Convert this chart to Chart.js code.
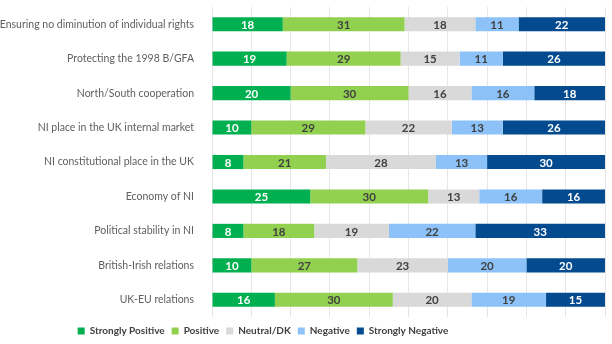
<!DOCTYPE html>
<html>
<head>
<meta charset="utf-8">
<script src="https://cdn.jsdelivr.net/npm/chart.js@4.4.1/dist/chart.umd.min.js"></script>
<style>
  html, body { margin: 0; padding: 0; background: #fff; }
  #wrap { width: 612px; height: 344px; position: relative; }
</style>
</head>
<body>
<div id="wrap"><canvas id="chart"></canvas></div>
<script>
// kategórie a hodnoty (percentá)
const categories = [
    'Ensuring no diminution of individual rights',
    'Protecting the 1998 B/GFA',
    'North/South cooperation',
    'NI place in the UK internal market',
    'NI constitutional place in the UK',
    'Economy of NI',
    'Political stability in NI',
    'British-Irish relations',
    'UK-EU relations'
];
const stronglyPositive = [18, 19, 20, 10, 8, 25, 8, 10, 16];
const positive         = [31, 29, 30, 29, 21, 30, 18, 27, 30];
const neutralDK        = [18, 15, 16, 22, 28, 13, 19, 23, 20];
const negative         = [11, 11, 16, 13, 13, 16, 22, 20, 19];
const stronglyNegative = [22, 26, 18, 26, 30, 16, 33, 20, 15];

const FONT = 'Lato, "Open Sans", sans-serif';

const series = [
    { label: 'Strongly Positive', data: stronglyPositive, color: '#00B050', text: '#ffffff' },
    { label: 'Positive',          data: positive,         color: '#92D050', text: '#404040' },
    { label: 'Neutral/DK',        data: neutralDK,        color: '#D9D9D9', text: '#404040' },
    { label: 'Negative',          data: negative,         color: '#8CC2F8', text: '#404040' },
    { label: 'Strongly Negative', data: stronglyNegative, color: '#034A8E', text: '#ffffff' }
];

// jednoduchý plugin na popisky hodnôt v stĺpcoch
const barLabels = {
    id: 'barLabels',
    afterDatasetsDraw(chart) {
        const ctx = chart.ctx;
        ctx.save();
        ctx.font = 'bold 11.5px ' + FONT;
        ctx.textAlign = 'center';
        ctx.textBaseline = 'middle';
        chart.data.datasets.forEach((ds, i) => {
            const meta = chart.getDatasetMeta(i);
            ctx.fillStyle = series[i].text;
            meta.data.forEach((bar, j) => {
                const cx = (bar.x + bar.base) / 2;
                ctx.fillText(String(ds.data[j]), cx, bar.y + 1);
            });
        });
        ctx.restore();
    }
};

// legenda je v origináli posunutá doľava
const legendShift = {
    id: 'legendShift',
    beforeDraw(chart) {
        chart.legend.left = 0;
        chart.legend.right = 526;
        chart.legend.top += 2;
    }
};

const ctx = document.getElementById('chart').getContext('2d');
const chart = new Chart(ctx, {
    type: 'bar',
    data: {
        labels: categories,
        datasets: series.map(s => ({
            label: s.label,
            data: s.data,
            backgroundColor: s.color,
            borderWidth: 0,
            barPercentage: 0.41,
            categoryPercentage: 1.0
        }))
    },
    options: {
        indexAxis: 'y',
        responsive: true,
        maintainAspectRatio: false,
        animation: false,
        layout: { padding: { top: 7, right: 7, left: 0, bottom: 0 } },
        scales: {
            x: {
                stacked: true,
                min: 0,
                max: 100,
                ticks: { display: false, stepSize: 10 },
                grid: { color: '#E6E6E6', drawTicks: false },
                border: { display: false }
            },
            y: {
                stacked: true,
                grid: { display: false },
                border: { display: false },
                ticks: { color: '#5f5f5f', font: { family: FONT, size: 10.5 }, padding: 10 },
                afterFit(scale) {
                    scale.width = 212;
                    scale.paddingTop = 0;
                    scale.paddingBottom = 0;
                }
            }
        },
        plugins: {
            legend: {
                position: 'bottom',
                labels: {
                    boxWidth: 7,
                    boxHeight: 7,
                    padding: 7,
                    color: '#404040',
                    font: { family: FONT, size: 10, weight: 'bold' }
                }
            },
            tooltip: { enabled: false }
        }
    },
    plugins: [barLabels, legendShift]
});
</script>
</body>
</html>
